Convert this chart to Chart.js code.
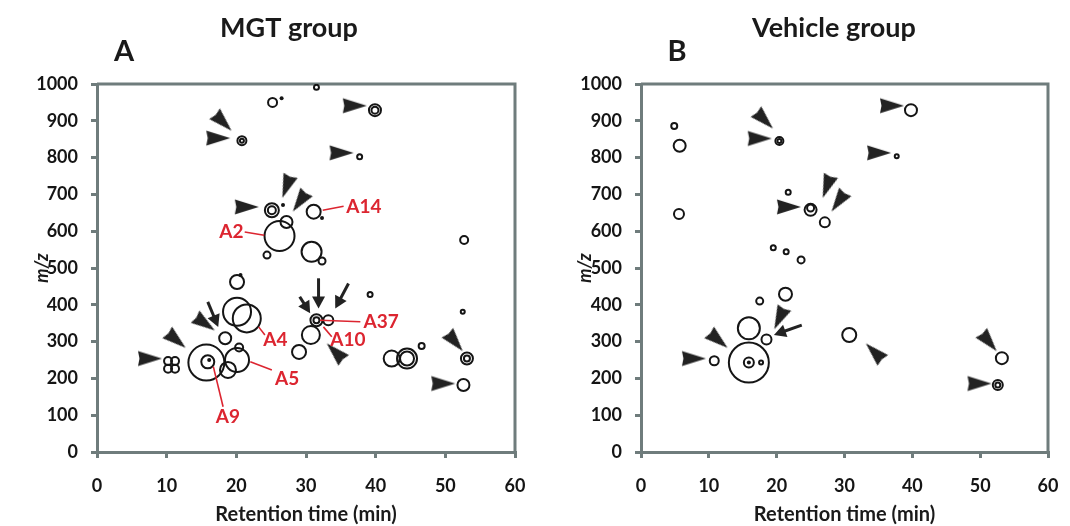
<!DOCTYPE html>
<html>
<head>
<meta charset="utf-8">
<script src="https://cdn.jsdelivr.net/npm/chart.js@4.4.0/dist/chart.umd.min.js"></script>
<style>
  html, body { margin: 0; padding: 0; background: #fff; }
  #wrap { position: relative; width: 1070px; height: 526px; }
  canvas { position: absolute; top: 0; }
</style>
</head>
<body>
<div id="wrap">
  <canvas id="chartA" width="535" height="526" style="left:0"></canvas>
  <canvas id="chartB" width="535" height="526" style="left:535px"></canvas>
</div>
<script>
// axis ticks
const timeTicks = [0, 10, 20, 30, 40, 50, 60];
const mzTicks = [0, 100, 200, 300, 400, 500, 600, 700, 800, 900, 1000];

// MGT group: open circles (retention time, m/z, bubble radius)
const mgtTime = [25.2, 31.5, 39.9, 39.9, 37.7, 20.8, 20.8, 25.1, 25.1, 27.2,
                 31.1, 26.2, 24.4, 30.8, 32.3, 52.7, 20.1, 20.1, 21.5, 18.4,
                 10.2, 11.2, 10.2, 11.2, 15.7, 15.9, 20.1, 20.4, 18.8, 29.0,
                 30.7, 31.5, 31.5, 33.2, 39.2, 52.5, 46.6, 42.3, 44.5, 44.5,
                 53.1, 53.1, 52.6];
const mgtMz = [950, 991, 929, 929, 802, 846, 846, 657, 657, 625,
               653, 587, 535, 544, 519, 576, 462, 381, 363, 309,
               247, 247, 226, 226, 243, 245, 250, 284, 223, 272,
               318, 358, 358, 358, 428, 381, 288, 254, 254, 254,
               254, 254, 182];
const mgtSize = [4.5, 2.5, 6, 3.5, 2.5, 4.5, 2, 7, 4, 6,
                 7, 15, 3.5, 10, 3.5, 4, 7, 14, 14, 6,
                 4, 4, 4, 4, 18, 6.5, 12, 4, 8, 7,
                 9, 6, 3, 5, 2.5, 2, 3, 8, 10, 7,
                 6, 3, 6];
// MGT group: small filled spots
const mgtDotTime = [26.5, 26.7, 32.3, 20.6, 16.1];
const mgtDotMz = [961, 671, 636, 481, 250];

// Vehicle group: open circles
const vehTime = [4.9, 5.7, 5.6, 20.4, 20.4, 21.7, 25.0, 25.0, 27.1, 19.5,
                 21.4, 23.6, 39.8, 37.7, 17.5, 21.3, 15.9, 18.5, 10.8, 15.9,
                 15.9, 17.7, 30.7, 53.2, 52.6, 52.6];
const vehMz = [886, 832, 647, 845, 845, 706, 658, 663, 624, 555,
               544, 522, 929, 804, 410, 429, 336, 306, 248, 243,
               243, 243, 318, 255, 182, 182];
const vehSize = [3, 6, 5, 4, 2, 2.5, 6, 3.5, 5, 2.5,
                 2.5, 3.5, 6, 2, 3.5, 6.5, 11, 5, 4.5, 20,
                 5, 2, 7, 6, 5, 2.5];
const vehDotTime = [15.9];
const vehDotMz = [243];

// arrowheads: position and pointing direction (degrees, clockwise from right)
const mgtHeadTime = [18.1, 17.4, 21.5, 27.2, 29.1, 15.5, 11.4, 7.6, 34.2, 51.4, 49.7, 37.0, 35.1];
const mgtHeadMz = [896, 853, 666, 721, 680, 349, 304, 254, 272, 299, 186, 941, 813];
const mgtHeadDir = [45, 0, 0, 110, 125, 35, 40, 0, 225, 50, 0, 0, 0];

const vehHeadTime = [18.2, 17.5, 21.8, 27.4, 29.1, 37.0, 35.1, 20.4, 11.4, 7.8, 34.4, 51.3, 49.9];
const vehHeadMz = [902, 852, 666, 721, 680, 941, 813, 363, 304, 254, 272, 299, 186];
const vehHeadDir = [45, 0, 0, 110, 125, 0, 0, 115, 40, 0, 225, 50, 0];

// arrows with shafts: [fromTime, fromMz, toTime, toMz]
const mgtArrows = [[15.9, 408, 17.4, 340], [31.8, 472, 31.8, 390], [29.1, 422, 30.6, 377], [36.1, 458, 34.2, 390]];
const vehArrows = [[23.7, 345, 19.6, 318]];

// red peak labels: [text, labelTime, labelMz, lineFromTime, lineFromMz, lineToTime, lineToMz]
const mgtLabels = [
  ['A2', 19.3, 598, 21.2, 598, 24.0, 589],
  ['A14', 38.3, 666, 32.4, 657, 35.4, 668],
  ['A4', 25.6, 304, 23.2, 340, 24.1, 318],
  ['A5', 27.3, 200, 22.0, 245, 25.1, 223],
  ['A9', 18.8, 96, 16.7, 232, 18.1, 123],
  ['A37', 40.8, 354, 32.0, 358, 37.8, 354],
  ['A10', 36.0, 306, 32.5, 340, 33.7, 313]
];

const AXIS = '#6f7c7c';
const INK = '#151515';
const RED = '#dc2530';
Chart.defaults.font.family = 'Lato, "Open Sans", sans-serif';

function makeHead() {
  const c = document.createElement('canvas');
  c.width = 28; c.height = 28;
  const g = c.getContext('2d');
  g.fillStyle = '#222';
  g.beginPath();
  g.moveTo(2, 6.5);
  g.lineTo(26, 14);
  g.lineTo(2, 21.5);
  g.lineTo(3.5, 14);
  g.closePath();
  g.fill();
  return c;
}
const headImg = makeHead();

function zip(xs, ys, rs) {
  return xs.map((x, i) => ({ x, y: ys[i], r: rs ? rs[i] : 2 }));
}

const annotate = {
  id: 'annotate',
  beforeDatasetsDraw(chart) {
    const { ctx, chartArea: a } = chart;
    ctx.save();
    ctx.strokeStyle = AXIS;
    ctx.lineWidth = 3;
    ctx.beginPath();
    ctx.moveTo(a.left, a.top);
    ctx.lineTo(a.right, a.top);
    ctx.lineTo(a.right, a.bottom);
    ctx.stroke();
    ctx.restore();
  },
  afterDatasetsDraw(chart, args, opts) {
    const { ctx } = chart;
    const x = chart.scales.x, y = chart.scales.y;
    ctx.save();
    // arrows
    ctx.strokeStyle = '#222';
    ctx.fillStyle = '#222';
    ctx.lineWidth = 3;
    (opts.arrows || []).forEach(([x0, y0, x1, y1]) => {
      const ax = x.getPixelForValue(x0), ay = y.getPixelForValue(y0);
      const bx = x.getPixelForValue(x1), by = y.getPixelForValue(y1);
      const ang = Math.atan2(by - ay, bx - ax);
      const hl = 12, hw = 6.5;
      const sx = bx - Math.cos(ang) * hl * 0.8, sy = by - Math.sin(ang) * hl * 0.8;
      ctx.beginPath();
      ctx.moveTo(ax, ay);
      ctx.lineTo(sx, sy);
      ctx.stroke();
      ctx.beginPath();
      ctx.moveTo(bx, by);
      ctx.lineTo(bx - Math.cos(ang) * hl - Math.sin(ang) * hw, by - Math.sin(ang) * hl + Math.cos(ang) * hw);
      ctx.lineTo(bx - Math.cos(ang) * hl + Math.sin(ang) * hw, by - Math.sin(ang) * hl - Math.cos(ang) * hw);
      ctx.closePath();
      ctx.fill();
    });
    // red labels
    ctx.strokeStyle = RED;
    ctx.fillStyle = RED;
    ctx.lineWidth = 1.6;
    ctx.font = 'bold 19px Lato, "Open Sans", sans-serif';
    ctx.textAlign = 'center';
    ctx.textBaseline = 'middle';
    (opts.labels || []).forEach(([t, lx, ly, x0, y0, x1, y1]) => {
      ctx.beginPath();
      ctx.moveTo(x.getPixelForValue(x0), y.getPixelForValue(y0));
      ctx.lineTo(x.getPixelForValue(x1), y.getPixelForValue(y1));
      ctx.stroke();
      ctx.fillText(t, x.getPixelForValue(lx), y.getPixelForValue(ly));
    });
    ctx.restore();
  },
  afterDraw(chart, args, opts) {
    const { ctx } = chart;
    ctx.save();
    ctx.fillStyle = '#1a1a1a';
    ctx.textAlign = 'center';
    ctx.textBaseline = 'alphabetic';
    ctx.font = 'bold 27px Lato, "Open Sans", sans-serif';
    ctx.fillText(opts.title, opts.titleX, 37);
    ctx.font = 'bold 29px Lato, "Open Sans", sans-serif';
    ctx.fillText(opts.letter, opts.letterX, 61);
    ctx.restore();
  }
};

function buildChart(id, cfg) {
  const axisFont = { size: 18, weight: 'bold' };
  return new Chart(document.getElementById(id), {
    type: 'bubble',
    data: {
      datasets: [
        {
          data: zip(cfg.time, cfg.mz, cfg.size),
          backgroundColor: 'rgba(0,0,0,0)',
          borderColor: INK,
          borderWidth: 2
        },
        {
          data: zip(cfg.dotTime, cfg.dotMz),
          backgroundColor: INK,
          borderColor: INK,
          borderWidth: 0
        },
        {
          type: 'scatter',
          data: zip(cfg.headTime, cfg.headMz),
          pointStyle: headImg,
          pointRadius: 10,
          rotation: c => cfg.headDir[c.dataIndex]
        }
      ]
    },
    options: {
      responsive: false,
      animation: false,
      events: [],
      layout: { padding: { top: 84, right: cfg.padRight, left: 0, bottom: 0 } },
      plugins: {
        legend: { display: false },
        tooltip: { enabled: false },
        annotate: {
          arrows: cfg.arrows, labels: cfg.labels,
          title: cfg.title, titleX: cfg.titleX,
          letter: cfg.letter, letterX: cfg.letterX
        }
      },
      scales: {
        x: {
          type: 'linear', min: 0, max: 60,
          afterBuildTicks: s => { s.ticks = timeTicks.map(v => ({ value: v })); },
          afterFit: s => { s.height = 74; s.paddingLeft = 0; s.paddingRight = 0; },
          grid: { drawOnChartArea: false, color: AXIS, lineWidth: 3, tickLength: 6 },
          border: { color: AXIS, width: 3 },
          ticks: { color: INK, font: axisFont, padding: 17, maxRotation: 0, callback: v => String(v) },
          title: { display: true, text: 'Retention time (min)', color: '#1a1a1a',
                   font: { size: 20, weight: 'bold' }, padding: { top: 0, bottom: -1 } }
        },
        y: {
          type: 'linear', min: 0, max: 1000,
          afterBuildTicks: s => { s.ticks = mzTicks.map(v => ({ value: v })); },
          afterFit: s => { s.width = cfg.yWidth; s.paddingTop = 0; s.paddingBottom = 0; },
          grid: { drawOnChartArea: false, color: AXIS, lineWidth: 3, tickLength: 6 },
          border: { color: AXIS, width: 3 },
          ticks: { color: INK, font: axisFont, padding: 13, callback: v => String(v) },
          title: { display: true, text: 'm/z', color: '#1a1a1a',
                   font: { size: 18, weight: 'bold', style: 'italic' },
                   padding: { top: cfg.yTitlePad, bottom: 0 } }
        }
      }
    },
    plugins: [annotate]
  });
}

buildChart('chartA', {
  time: mgtTime, mz: mgtMz, size: mgtSize,
  dotTime: mgtDotTime, dotMz: mgtDotMz,
  headTime: mgtHeadTime, headMz: mgtHeadMz, headDir: mgtHeadDir,
  arrows: mgtArrows, labels: mgtLabels,
  title: 'MGT group', titleX: 289, letter: 'A', letterX: 124,
  yWidth: 97, yTitlePad: 31, padRight: 20
});

buildChart('chartB', {
  time: vehTime, mz: vehMz, size: vehSize,
  dotTime: vehDotTime, dotMz: vehDotMz,
  headTime: vehHeadTime, headMz: vehHeadMz, headDir: vehHeadDir,
  arrows: vehArrows, labels: [],
  title: 'Vehicle group', titleX: 299, letter: 'B', letterX: 142,
  yWidth: 106, yTitlePad: 39, padRight: 14
});
</script>
</body>
</html>
